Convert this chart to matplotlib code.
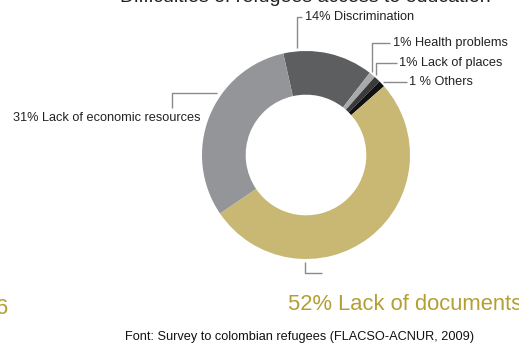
import numpy as np
import matplotlib
matplotlib.use("Agg")
import matplotlib.pyplot as plt

plt.rcParams['font.family'] = ['Liberation Sans', 'DejaVu Sans']

# survey shares, clockwise from the top
causes = ['Discrimination', 'Health problems', 'Lack of places', 'Others',
          'Lack of documents', 'Lack of economic resources']
shares = [14, 1, 1, 1, 52, 31]
label_text = ['14% Discrimination', '1% Health problems', '1% Lack of places',
              '1 % Others', '52% Lack of documents', '31% Lack of economic resources']
colors = ['#5d5e60', '#a9aaac', '#3a3a3a', '#111111', '#c9b873', '#939598']

title = 'Difficulties of refugees access to education'
source = 'Font: Survey to colombian refugees (FLACSO-ACNUR, 2009)'

W, H = 519, 343
fig = plt.figure(figsize=(W / 100, H / 100), dpi=100)
ax = fig.add_axes([0, 0, 1, 1])

cx, cy, R = 306, 155, 104   # pixel coords, y measured from top
ring = 0.42

ax.pie(shares, colors=colors, startangle=102.6, counterclock=False,
       center=(cx, H - cy), radius=R,
       wedgeprops=dict(width=R * ring, linewidth=0))
ax.set_xlim(0, W)
ax.set_ylim(0, H)
ax.set_aspect('equal')
ax.axis('off')


def Y(y):
    return H - y


def on_ring(x=None, y=None, gap=3):
    # point on the outer edge of the ring, straight below/above x or beside y
    if x is not None:
        dy = np.sqrt(R ** 2 - (x - cx) ** 2) + gap
        return x, (cy - dy if y == 'top' else cy + dy)
    dx = np.sqrt(R ** 2 - (y - cy) ** 2) + gap
    return None, dx


line_kw = dict(color='#8a8a8a', lw=1.0, solid_capstyle='butt')
lab_kw = dict(fontsize=9.2, va='center', color='#222222')

# 14% Discrimination: up from the ring, short tick to the right
x0, yr = on_ring(297, 'top')
ax.plot([x0, x0, 302], [Y(yr), Y(17), Y(17)], **line_kw)
ax.text(305, Y(17), label_text[0], **lab_kw)

# 1% Health problems
x0, yr = on_ring(372, 'top')
ax.plot([x0, x0, 390], [Y(yr), Y(43), Y(43)], **line_kw)
ax.text(393, Y(43), label_text[1], **lab_kw)

# 1% Lack of places
x0, yr = on_ring(376, 'top')
ax.plot([x0, x0, 397], [Y(yr), Y(63), Y(63)], **line_kw)
ax.text(399, Y(63), label_text[2], **lab_kw)

# 1 % Others
_, dx = on_ring(y=82)
ax.plot([cx + dx, 407], [Y(82), Y(82)], **line_kw)
ax.text(409, Y(82), label_text[3], **lab_kw)

# 31% Lack of economic resources
_, dx = on_ring(y=93, gap=6)
ax.plot([cx - dx, 172, 172], [Y(93), Y(93), Y(108)], **line_kw)
ax.text(13, Y(118), label_text[5], **lab_kw)

# 52% Lack of documents
x0, yr = on_ring(305, 'bottom')
ax.plot([x0, x0, 322], [Y(yr), Y(273), Y(273)], **line_kw)
ax.text(288, Y(310), label_text[4], fontsize=15.8, va='baseline', color='#b49f34')

# neighbouring figure text cut by the frame
ax.text(8, Y(314), '6', fontsize=15.8, va='baseline', ha='right', color='#b49f34')

ax.text(305, Y(2), title, fontsize=14, ha='center', va='baseline', color='#222222')
ax.text(300, Y(337), source, fontsize=9.2, ha='center', va='center', color='#111111')

fig.savefig('out.png', dpi=100, facecolor='white')
